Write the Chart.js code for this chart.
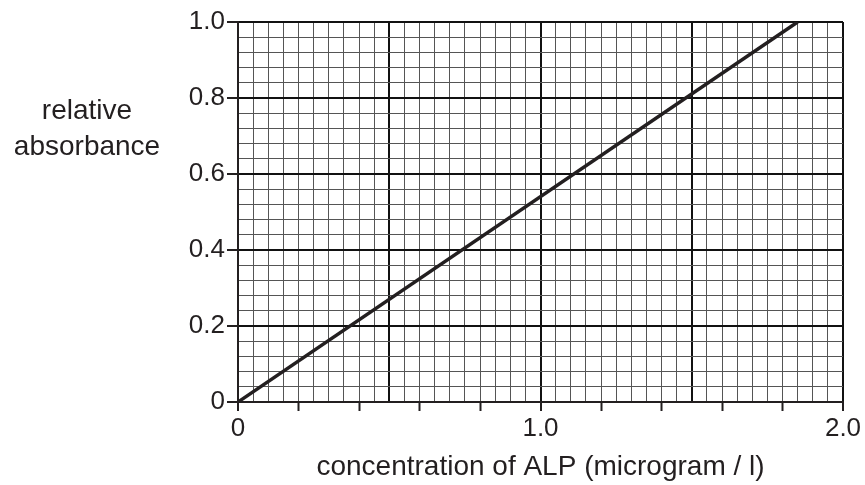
<!DOCTYPE html>
<html lang="en">
<head>
    <meta charset="UTF-8">
    <title>Relative absorbance against ALP concentration</title>
    <script src="https://cdn.jsdelivr.net/npm/chart.js"></script>
    <style>
        body { margin: 0; background: #fff; }
        #wrap { width: 865px; height: 485px; }
    </style>
</head>
<body>
    <div id="wrap">
        <canvas id="myChart" width="865" height="485"></canvas>
    </div>
    <script>
        // calibration line
        const concentration = [0, 1.85];
        const absorbance = [0, 1.0];

        // tick labels
        const xLabelValues = [0, 1, 2];
        const xLabelText = ['0', '1.0', '2.0'];
        const yLabelValues = [0, 0.2, 0.4, 0.6, 0.8, 1.0];
        const yLabelText = ['0', '0.2', '0.4', '0.6', '0.8', '1.0'];

        const yTitle = ['relative', 'absorbance'];
        const xTitle = 'concentration of ALP (microgram / l)';

        const ink = '#231f20';
        const fontFamily = "'Liberation Sans', Arial, sans-serif";

        function labelFor(values, texts, v) {
            const i = values.findIndex(x => Math.abs(x - v) < 1e-6);
            return i >= 0 ? texts[i] : '';
        }
        function isMult(v, step) {
            const r = v / step;
            return Math.abs(r - Math.round(r)) < 1e-6;
        }

        // horizontal y title drawn beside the axis
        const yTitlePlugin = {
            id: 'yTitle',
            afterDraw(chart) {
                const ctx = chart.ctx;
                ctx.save();
                ctx.fillStyle = ink;
                ctx.font = '28px ' + fontFamily;
                ctx.textAlign = 'center';
                ctx.textBaseline = 'alphabetic';
                ctx.fillText(yTitle[0], 87, 119);
                ctx.fillText(yTitle[1], 87, 155);
                ctx.restore();
            }
        };

        const ctx = document.getElementById('myChart').getContext('2d');
        new Chart(ctx, {
            type: 'line',
            data: {
                datasets: [{
                    data: concentration.map((c, i) => ({ x: c, y: absorbance[i] })),
                    borderColor: ink,
                    borderWidth: 3.5,
                    pointRadius: 0,
                    tension: 0
                }]
            },
            options: {
                responsive: false,
                animation: false,
                layout: { padding: { top: 22, right: 22, left: 0, bottom: 0 } },
                plugins: {
                    legend: { display: false },
                    tooltip: { enabled: false }
                },
                scales: {
                    x: {
                        type: 'linear',
                        min: 0,
                        max: 2,
                        afterFit(scale) { scale.height = 83; },
                        border: { display: true, color: ink, width: 2 },
                        grid: {
                            color: c => isMult(c.tick.value, 0.5) ? '#111' : '#555',
                            lineWidth: c => isMult(c.tick.value, 0.5) ? 2 : 1,
                            tickColor: c => isMult(c.tick.value, 0.2) ? ink : 'rgba(0,0,0,0)',
                            tickWidth: 2,
                            tickLength: 9
                        },
                        ticks: {
                            stepSize: 0.05,
                            autoSkip: false,
                            maxRotation: 0,
                            padding: 2,
                            color: ink,
                            font: { size: 26, family: fontFamily },
                            callback: v => labelFor(xLabelValues, xLabelText, v)
                        },
                        title: {
                            display: true,
                            text: xTitle,
                            color: ink,
                            font: { size: 28, family: fontFamily },
                            padding: { top: 0, bottom: 1 }
                        }
                    },
                    y: {
                        type: 'linear',
                        min: 0,
                        max: 1,
                        afterFit(scale) { scale.width = 238; },
                        border: { display: true, color: ink, width: 2 },
                        grid: {
                            color: c => isMult(c.tick.value, 0.2) ? '#111' : '#555',
                            lineWidth: c => isMult(c.tick.value, 0.2) ? 2 : 1,
                            tickColor: c => isMult(c.tick.value, 0.2) ? ink : 'rgba(0,0,0,0)',
                            tickWidth: 2,
                            tickLength: 11
                        },
                        ticks: {
                            stepSize: 0.04,
                            autoSkip: false,
                            padding: 2,
                            color: ink,
                            font: { size: 26, family: fontFamily },
                            callback: v => labelFor(yLabelValues, yLabelText, v)
                        }
                    }
                }
            },
            plugins: [yTitlePlugin]
        });
    </script>
</body>
</html>
